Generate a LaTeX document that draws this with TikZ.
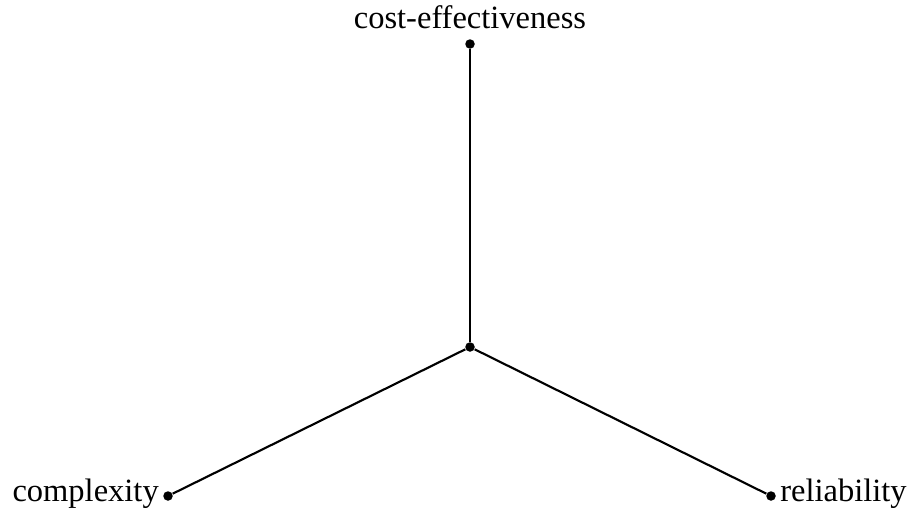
\documentclass[tikz,border=0pt]{standalone}
\usepackage{fontspec}
\setmainfont{Liberation Serif}
\usetikzlibrary{positioning}

\begin{document}
\begin{tikzpicture}[
    x=0.4pt, y=-0.4pt,
    dot/.style={
        circle,
        fill=black,
        inner sep=0pt,
        minimum size=3.8pt
    },
    axis/.style={
        line width=0.85pt
    },
    lbl/.style={
        font=\fontsize{13}{15}\selectfont,
        inner sep=0pt
    }
]

\useasboundingbox (0,0) rectangle (909,513);

% ============================================================
% Centre and the three end points
% ============================================================

\node[dot] (centre) at (470,347) {};

\node[dot] (cost) at (470,44) {};

\node[dot] (complexity) at (168,496) {};

\node[dot] (reliability) at (771,496) {};

% ============================================================
% Axes
% ============================================================

\draw[axis] (centre) -- (cost);
\draw[axis] (centre) -- (complexity);
\draw[axis] (centre) -- (reliability);

% ============================================================
% Labels
% ============================================================

\node[lbl, above=4pt of cost, anchor=base] (costlbl)
    {cost-effectiveness};

\node[lbl, left=1.4pt of complexity, anchor=mid east] (complexitylbl)
    {complexity};

\node[lbl, right=1.4pt of reliability, anchor=mid west] (reliabilitylbl)
    {reliability};

\end{tikzpicture}
\end{document}
